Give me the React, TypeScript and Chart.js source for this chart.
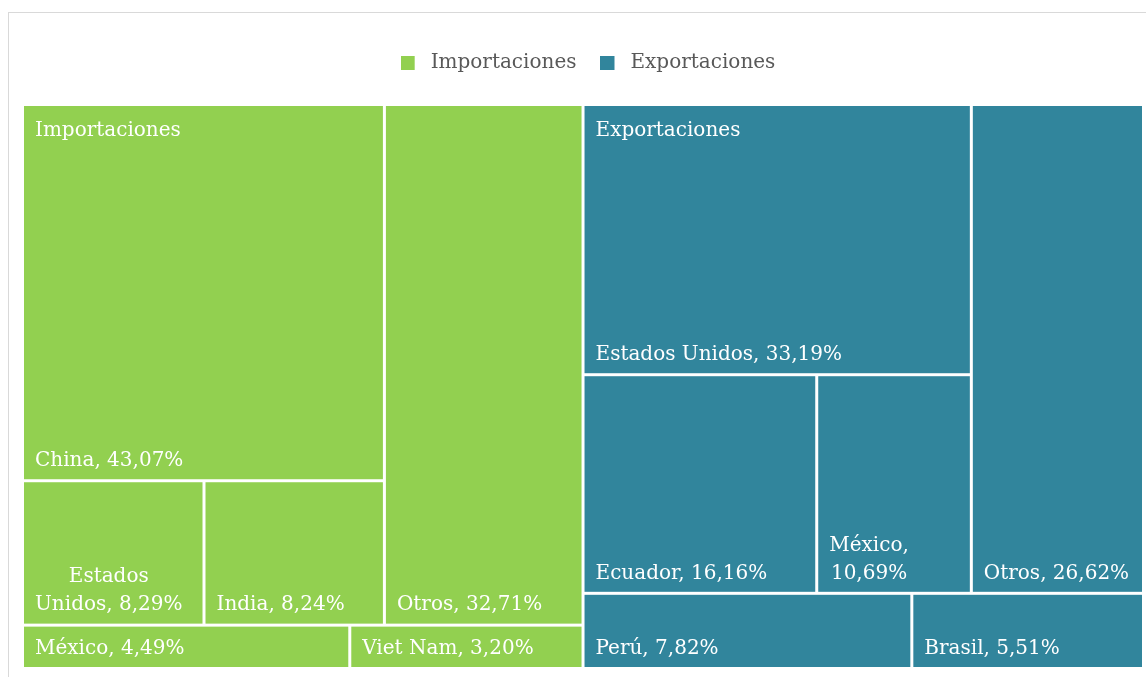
import React, { useEffect, useRef } from "react";
import { Chart, registerables } from "chart.js";

Chart.register(...registerables);

// ---- Data ----
const groupNames = ["Importaciones", "Exportaciones"];
const groupColors = ["#92D050", "#31859C"];

const importCategories = ["China", "Estados Unidos", "India", "Otros", "México", "Viet Nam"];
const importValues = [43.07, 8.29, 8.24, 32.71, 4.49, 3.2];

const exportCategories = ["Estados Unidos", "Ecuador", "México", "Otros", "Perú", "Brasil"];
const exportValues = [33.19, 16.16, 10.69, 26.62, 7.82, 5.51];

// Treemap arrangement (Excel's nesting): "v" = stacked top-to-bottom, "h" = side by side
type Node = number | { dir: "v" | "h"; children: Node[] };
const groupTree: Node = {
  dir: "v",
  children: [
    { dir: "h", children: [{ dir: "v", children: [0, { dir: "h", children: [1, 2] }] }, 3] },
    { dir: "h", children: [4, 5] },
  ],
};

const FONT = "'DejaVu Serif', serif";

function sumNode(n: Node, vals: number[]): number {
  if (typeof n === "number") return vals[n];
  return n.children.reduce((s, c) => s + sumNode(c, vals), 0);
}

type Rect = { x0: number; x1: number; y0: number; y1: number };

function layoutNode(n: Node, vals: number[], r: Rect, out: Rect[]) {
  if (typeof n === "number") {
    out[n] = r;
    return;
  }
  const total = sumNode(n, vals);
  let pos = n.dir === "h" ? r.x0 : r.y0;
  const span = n.dir === "h" ? r.x1 - r.x0 : r.y1 - r.y0;
  n.children.forEach((c) => {
    const len = (sumNode(c, vals) / total) * span;
    if (n.dir === "h") layoutNode(c, vals, { x0: pos, x1: pos + len, y0: r.y0, y1: r.y1 }, out);
    else layoutNode(c, vals, { x0: r.x0, x1: r.x1, y0: pos, y1: pos + len }, out);
    pos += len;
  });
}

function fmt(v: number) {
  return v.toFixed(2).replace(".", ",") + "%";
}

function legendSwatch(color: string) {
  const c = document.createElement("canvas");
  c.width = 20;
  c.height = 14;
  const cx = c.getContext("2d")!;
  cx.fillStyle = color;
  cx.fillRect(0, 0, 14, 14);
  return c;
}

function buildDataset(gi: number, cats: string[], vals: number[], groupRect: Rect) {
  const rects: Rect[] = [];
  layoutNode(groupTree, vals, groupRect, rects);
  return {
    label: groupNames[gi],
    backgroundColor: groupColors[gi],
    borderColor: groupColors[gi],
    borderWidth: 0,
    pointRadius: 0,
    pointStyle: legendSwatch(groupColors[gi]),
    groupRect,
    data: rects.map((r, i) => ({
      x: (r.x0 + r.x1) / 2,
      y: (r.y0 + r.y1) / 2,
      ...r,
      label: cats[i] + ", " + fmt(vals[i]),
    })),
  };
}

function wrapText(ctx: CanvasRenderingContext2D, text: string, maxW: number): string[] {
  const words = text.split(" ");
  const lines: string[] = [];
  let cur = "";
  words.forEach((w) => {
    const test = cur ? cur + " " + w : w;
    if (ctx.measureText(test).width > maxW && cur) {
      lines.push(cur);
      cur = w;
    } else cur = test;
  });
  if (cur) lines.push(cur);
  return lines;
}

const treemapPlugin = {
  id: "treemapRects",
  afterLayout(chart: any) {
    // nudge legend slightly right, as in the original
    if (chart.legend) {
      chart.legend.left += 5;
      chart.legend.right += 5;
    }
  },
  beforeDatasetsDraw(chart: any) {
    const { ctx, scales } = chart;
    const xs = scales.x;
    const ys = scales.y;
    const gap = 1.5;
    ctx.save();
    chart.data.datasets.forEach((ds: any) => {
      ctx.fillStyle = ds.backgroundColor;
      ds.data.forEach((d: any) => {
        const px0 = xs.getPixelForValue(d.x0);
        const px1 = xs.getPixelForValue(d.x1);
        const py0 = ys.getPixelForValue(d.y0);
        const py1 = ys.getPixelForValue(d.y1);
        const l = Math.min(px0, px1) + gap;
        const t = Math.min(py0, py1) + gap;
        ctx.fillRect(l, t, Math.abs(px1 - px0) - 2 * gap, Math.abs(py1 - py0) - 2 * gap);
      });
    });
    ctx.restore();
  },
  afterDatasetsDraw(chart: any) {
    const { ctx, scales } = chart;
    const xs = scales.x;
    const ys = scales.y;
    ctx.save();
    ctx.fillStyle = "#FFFFFF";
    ctx.font = "20px " + FONT;
    const padX = 11;
    const lineH = 28;
    chart.data.datasets.forEach((ds: any) => {
      // group label top-left
      const g = ds.groupRect;
      const gx = xs.getPixelForValue(g.x0);
      const gy = ys.getPixelForValue(g.y0);
      ctx.textAlign = "left";
      ctx.textBaseline = "middle";
      ctx.fillText(ds.label, gx + padX + 1.5, gy + 26);
      ds.data.forEach((d: any) => {
        const px0 = xs.getPixelForValue(d.x0);
        const px1 = xs.getPixelForValue(d.x1);
        const pyb = ys.getPixelForValue(d.y1);
        const maxW = px1 - px0 - 2 * padX - 3;
        const lines = wrapText(ctx, d.label, maxW);
        const blockW = Math.max(...lines.map((s) => ctx.measureText(s).width));
        const left = px0 + 1.5 + padX;
        ctx.textAlign = "center";
        lines.forEach((s, i) => {
          const y = pyb - 20 - (lines.length - 1 - i) * lineH;
          ctx.fillText(s, left + blockW / 2, y);
        });
      });
    });
    ctx.restore();
  },
};

export default function App() {
  const ref = useRef<HTMLCanvasElement>(null);
  useEffect(() => {
    if (!ref.current) return;
    document.body.style.overflow = "hidden";
    const impTotal = importValues.reduce((a, b) => a + b, 0);
    const expTotal = exportValues.reduce((a, b) => a + b, 0);
    const split = impTotal / (impTotal + expTotal);
    const datasets = [
      buildDataset(0, importCategories, importValues, { x0: 0, x1: split, y0: 0, y1: 1 }),
      buildDataset(1, exportCategories, exportValues, { x0: split, x1: 1, y0: 0, y1: 1 }),
    ];
    const chart = new Chart(ref.current, {
      type: "scatter",
      data: { datasets: datasets as any },
      options: {
        animation: false,
        responsive: false,
        layout: { padding: { left: 13.5, right: 2.5, top: 16, bottom: 8.5 } },
        scales: {
          x: { type: "linear", min: 0, max: 1, display: false },
          y: { type: "linear", min: 0, max: 1, reverse: true, display: false },
        },
        plugins: {
          tooltip: { enabled: false },
          legend: {
            position: "top",
            labels: {
              usePointStyle: true,
              pointStyleWidth: 20,
              boxWidth: 20,
              boxHeight: 14,
              padding: 24,
              color: "#595959",
              font: { family: FONT, size: 20 },
            },
          },
          title: {
            display: true,
            text: " ",
            weight: 500,
            padding: 4.5,
            font: { size: 12.5, lineHeight: 1 },
          } as any,
        },
      },
      plugins: [treemapPlugin],
    });
    return () => chart.destroy();
  }, []);
  return (
    <div
      style={{
        position: "fixed",
        left: 0,
        top: 0,
        width: 1146,
        height: 677,
        overflow: "hidden",
        background: "#FFFFFF",
      }}
    >
      <div
        style={{
          position: "absolute",
          left: 8,
          top: 12,
          width: 1300,
          height: 900,
          border: "1px solid #D9D9D9",
          boxSizing: "border-box",
        }}
      />
      <canvas
        ref={ref}
        width={1137}
        height={664}
        style={{ position: "absolute", left: 9, top: 13, width: 1137, height: 664 }}
      />
    </div>
  );
}
